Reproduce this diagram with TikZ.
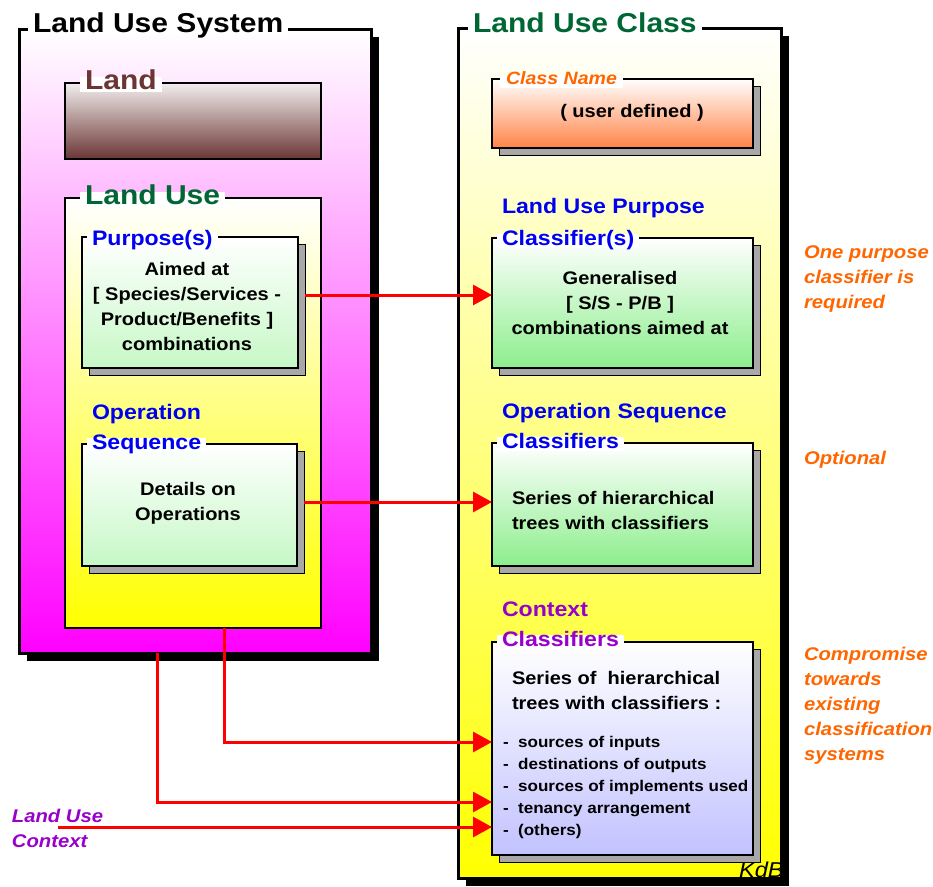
\documentclass[tikz,border=0pt]{standalone}
\usepackage{fontspec}
\setmainfont{Liberation Sans}[FakeStretch=1.1]
\usetikzlibrary{arrows.meta}
\definecolor{ttlgreen}{HTML}{006633}
\definecolor{landbrown}{HTML}{6B3535}
\definecolor{landtop}{HTML}{F2EEEE}
\definecolor{hblue}{HTML}{0000F0}
\definecolor{hpurple}{HTML}{9900CC}
\definecolor{horange}{HTML}{FF6600}
\definecolor{cnbottom}{HTML}{FF8347}
\definecolor{lgreen}{HTML}{C6F8C6}
\definecolor{rgreen}{HTML}{8CEE8C}
\definecolor{lav}{HTML}{C2C2FF}
\definecolor{shadowgray}{HTML}{A8A8A8}
\definecolor{arrred}{HTML}{FF0000}
\newcommand\ttlfnt{\bfseries\fontsize{27.3}{32}\selectfont}
\newcommand\hdfnt{\bfseries\fontsize{21}{30}\selectfont}
\newcommand\bdfnt{\bfseries\fontsize{18.2}{25}\selectfont}
\newcommand\lsfnt{\bfseries\fontsize{15.5}{22}\selectfont}
\newcommand\anfnt{\bfseries\itshape\fontsize{18.4}{25}\selectfont}
\begin{document}
\begin{tikzpicture}[x=1pt,y=-1pt,
  every node/.style={outer sep=0pt},
  panel/.style={draw=black, line width=3pt, anchor=north west, inner sep=0pt},
  card/.style={draw=black, line width=2.5pt, anchor=north west, inner sep=0pt},
  cshadow/.style={fill=shadowgray, draw=black, line width=1pt},
  ttl/.style={anchor=base west, fill=white, inner xsep=5pt, inner ysep=0pt, text height=13pt, text depth=3pt, font=\ttlfnt},
  hdr/.style={anchor=base west, fill=white, inner xsep=5pt, inner ysep=0pt, text height=11pt, text depth=3pt, font=\hdfnt},
  hfree/.style={anchor=base west, inner xsep=5pt, inner ysep=0pt, font=\hdfnt},
  body/.style={font=\bdfnt, align=center, inner sep=0pt},
  bodyl/.style={font=\bdfnt, align=left, anchor=west, inner sep=0pt},
  note/.style={font=\anfnt, text=horange, align=left, anchor=west, inner sep=0pt},
  conn/.style={draw=arrred, line width=3pt, -{Triangle[length=19pt,width=20pt]}}
]
\useasboundingbox (0,0) rectangle (933,886);
\fill[white] (0,0) rectangle (933,886);

% ---- Land Use System panel
\fill[black] (27,37) rectangle (379,661);
\node[panel, minimum width=352pt, minimum height=624pt, top color=white, bottom color=magenta] (sys) at (19,29) {};
\node[card, minimum width=256pt, minimum height=76pt, top color=landtop, bottom color=landbrown] (land) at (65,83) {};
\node[card, minimum width=256pt, minimum height=430pt, top color=white, bottom color=yellow] (lu) at (65,198) {};
\fill[cshadow] (89,244) rectangle (305,375);
\node[card, minimum width=216pt, minimum height=131pt, top color=white, bottom color=lgreen] (pur) at (82,237) {};
\fill[cshadow] (89,451) rectangle (304,573);
\node[card, minimum width=215pt, minimum height=122pt, top color=white, bottom color=lgreen] (op) at (82,444) {};

\node[ttl, text=black] (tsys) at (28,32) {Land Use System};
\node[ttl, text=landbrown, text height=12pt] (tland) at (80,89) {Land};
\node[ttl, text=ttlgreen, text height=12pt] (tlu) at (80,204) {Land Use};
\node[hdr, text=hblue] (tpur) at (87,245) {Purpose(s)};
\node[hfree, text=hblue] (top1) at (87,419) {Operation};
\node[hdr, text=hblue] (top2) at (87,449) {Sequence};

\node[body] (bpur) at (187,306) {Aimed at\\{}[ Species/Services -\\Product/Benefits ]\\combinations};
\node[body] (bop) at (188,503.5) {Details on\\Operations};

% ---- Land Use Class panel
\fill[black] (466,36) rectangle (789,886);
\node[panel, minimum width=323pt, minimum height=850pt, top color=white, bottom color=yellow] (cls) at (458,28) {};
\fill[cshadow] (499,86) rectangle (760,155);
\node[card, minimum width=261pt, minimum height=69pt, top color=white, bottom color=cnbottom] (cn) at (492,79) {};
\fill[cshadow] (499,245) rectangle (760,375);
\node[card, minimum width=261pt, minimum height=130pt, top color=white, bottom color=rgreen] (lup) at (492,238) {};
\fill[cshadow] (499,450) rectangle (760,573);
\node[card, minimum width=261pt, minimum height=123pt, top color=white, bottom color=rgreen] (osc) at (492,443) {};
\fill[cshadow] (499,649) rectangle (760,862);
\node[card, minimum width=261pt, minimum height=213pt, top color=white, bottom color=lav] (ctx) at (492,642) {};

\node[ttl, text=ttlgreen] (tcls) at (468,32) {Land Use Class};
\node[hdr, text=horange, font=\bfseries\itshape\fontsize{17.8}{22}\selectfont, text height=8pt, text depth=4pt, inner xsep=6pt] (tcn) at (500,84) {Class Name};
\node[hfree, text=hblue] (tlup1) at (497,213) {Land Use Purpose};
\node[hdr, text=hblue] (tlup2) at (497,245) {Classifier(s)};
\node[hfree, text=hblue] (tosc1) at (497,418) {Operation Sequence};
\node[hdr, text=hblue] (tosc2) at (497,448) {Classifiers};
\node[hfree, text=hpurple] (tctx1) at (497,616) {Context};
\node[hdr, text=hpurple] (tctx2) at (497,646) {Classifiers};

\node[body] (bcn) at (632,112.5) {( user defined )};
\node[body] (blup) at (620,302.5) {Generalised\\{}[ S/S - P/B ]\\combinations aimed at};
\node[bodyl] (bosc) at (512,510) {Series of hierarchical\\trees with classifiers};
\node[bodyl] (bctx) at (512,690.5) {Series of~ hierarchical\\trees with classifiers :};
\node[bodyl, font=\lsfnt] (lst) at (503,787.5) {-~~sources of inputs\\-~~destinations of outputs\\-~~sources of implements used\\-~~tenancy arrangement\\-~~(others)};
\begin{scope}
\clip (460,30) rectangle (779.5,876.5);
\node[anchor=base west, inner sep=0pt, font=\itshape\fontsize{21.5}{24}\selectfont] (kdb) at (739,877) {KdB};
\end{scope}

% ---- side notes
\node[note] (n1) at (804,279) {One purpose\\classifier is\\required};
\node[note] (n2) at (804,460) {Optional};
\node[note] (n3) at (804,706) {Compromise\\towards\\existing\\classification\\systems};
\node[note, text=hpurple] (luc) at (12,828) {Land Use\\Context};

% ---- connectors
\coordinate (p1) at (305,295);
\draw[conn] (p1) -- (p1 -| lup.west);
\coordinate (p2) at (304,502);
\draw[conn] (p2) -- (p2 -| osc.west);
\coordinate (p3) at (224,628);
\coordinate (q3) at (224,742);
\draw[conn] (p3) -- (q3) -- (q3 -| ctx.west);
\coordinate (p4) at (157,653);
\coordinate (q4) at (157,802);
\draw[conn] (p4) -- (q4) -- (q4 -| ctx.west);
\coordinate (p5) at (58,827);
\draw[conn] (p5) -- (p5 -| ctx.west);
\end{tikzpicture}
\end{document}
